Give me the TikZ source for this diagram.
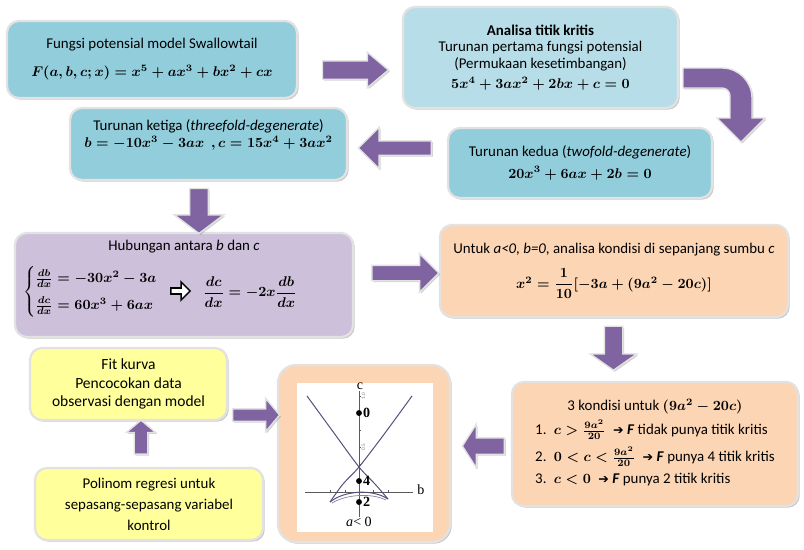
\documentclass[tikz,border=0pt]{standalone}
\usepackage{amsmath,amssymb}
\usepackage{fontspec}
\setmainfont{Carlito}[Scale=1.06]
\newfontfamily\dejavu{DejaVu Sans}
\newfontfamily\timesfont{Liberation Serif}
\usetikzlibrary{
arrows.meta,
positioning,
calc,
shapes.arrows,
shadows
}
\definecolor{TealBox}{HTML}{92CDDC}
\definecolor{TealPale}{HTML}{B7DEE8}
\definecolor{LilacBox}{HTML}{CCC0DA}
\definecolor{PeachBox}{HTML}{FCD5B4}
\definecolor{LemonBox}{HTML}{FFFF9C}
\definecolor{ArrowPurple}{HTML}{8064A2}
\definecolor{RimGray}{HTML}{E2E2E2}
\definecolor{CurveInk}{HTML}{524F7D}
\definecolor{AxisGray}{HTML}{5A5A5A}
\newcommand{\lowstrut}[1]{\rule[-#1]{0pt}{#1}}
\newcommand{\kanan}{{\dejavu\small ➔}}
\tikzset{
  flowbox/.style={rectangle, rounded corners=0.3cm, draw=RimGray, line width=1.6pt,
    align=center, inner sep=2pt,
    drop shadow={shadow xshift=1.2pt, shadow yshift=-1.2pt, opacity=0.3, fill=black!70}},
  arrowlook/.style={fill=ArrowPurple, draw=RimGray, line width=1pt,
    drop shadow={shadow xshift=1pt, shadow yshift=-1pt, opacity=0.25, fill=black!70}},
  fatarrow/.style={single arrow, arrowlook, inner xsep=0pt, single arrow head indent=0pt},
  imparrow/.style={single arrow, fill=white, draw=black, line width=1.1pt, inner xsep=0pt,
    inner ysep=1.3pt, single arrow head extend=0.13cm, single arrow head indent=0pt,
    minimum height=0.48cm, minimum width=0.45cm},
  dotmark/.style={circle, fill=black, inner sep=0pt, minimum size=4.2pt},
  ticktext/.style={rotate=90, text=gray, font=\fontsize{3.5}{4}\selectfont, inner sep=0pt}
}
\begin{document}
\boldmath
\begin{tikzpicture}[x=0.025cm,y=-0.025cm,>=Latex]
\useasboundingbox (0,0) rectangle (804,549);
% top row
\node[flowbox, fill=TealBox, minimum width=7.25cm, minimum height=1.925cm] (fungsi) at (152,59.5)
  {Fungsi potensial model Swallowtail\\[8pt] $F(a,b,c;x)=x^5+ax^3+bx^2+cx$};
\node[flowbox, fill=TealPale, minimum width=6.875cm, minimum height=2.525cm] (analisa) at (540.5,57.5)
  {\textbf{Analisa titik kritis}\\ Turunan pertama fungsi potensial\\ (Permukaan kesetimbangan)\\[2pt]
   $5x^4+3ax^2+2bx+c=0$};
\node[flowbox, fill=TealBox, minimum width=6.6cm, minimum height=1.75cm] (kedua) at (580,163)
  {Turunan kedua (\textit{twofold-degenerate})\\[3pt] $20x^3+6ax+2b=0$};
\node[flowbox, fill=TealBox, minimum width=6.925cm, minimum height=1.8cm] (ketiga) at (208.5,144)
  {Turunan ketiga (\textit{threefold-degenerate})\\ $b=-10x^3-3ax\ \ ,c=15x^4+3ax^2$\lowstrut{15pt}};
% middle row
\node[flowbox, fill=LilacBox, minimum width=8.45cm, minimum height=2.6cm] (hubungan) at (184,285) {};
\node (hubJudul) at (184,247) {Hubungan antara \textit{b} dan \textit{c}};
\node (hubSistem) at (98,292)
  {$\begin{cases}\frac{db}{dx}=-30x^2-3a\\[5pt] \frac{dc}{dx}=60x^3+6ax\end{cases}$};
\node[imparrow] (hubPanah) at (179,291) {};
\node (hubHasil) at (250,292) {$\dfrac{dc}{dx}=-2x\dfrac{db}{dx}$};
\node[flowbox, fill=PeachBox, minimum width=8.7cm, minimum height=2.3cm] (untuk) at (614,271)
  {Untuk \textit{a<0, b=0}, analisa kondisi di sepanjang sumbu \textit{c}\\[8pt]
   $x^2=\dfrac{1}{10}[-3a+(9a^2-20c)]$};
% bottom row
\node[flowbox, fill=PeachBox, minimum width=7.15cm, minimum height=3.1cm] (kondisi) at (655,444)
  {3 kondisi untuk $(9a^2-20c)$\\[3pt]
   \begin{tabular}{@{}l@{}}
   1.\enspace $c>\frac{9a^2}{20}$\enspace\kanan\ \textbf{\textit{F}} tidak punya titik kritis\\[5pt]
   2.\enspace $0<c<\frac{9a^2}{20}$\enspace\kanan\ \textbf{\textit{F}} punya 4 titik kritis\\[4pt]
   3.\enspace $c<0$\enspace\kanan\ \textbf{\textit{F}} punya 2 titik kritis
   \end{tabular}};
\node[flowbox, fill=LemonBox, minimum width=4.925cm, minimum height=1.8cm, font=\fontsize{10.4}{13}\selectfont]
  (fitkurva) at (128.5,384)
  {Fit kurva\\ Pencocokan data\\ observasi dengan model};
\node[flowbox, fill=LemonBox, minimum width=5.7cm, minimum height=1.8cm, font=\fontsize{10}{13}\selectfont]
  (polinom) at (149,504)
  {Polinom regresi untuk\\[2pt] sepasang-sepasang variabel\\[2pt] kontrol};
% swallowtail picture
\node[flowbox, fill=PeachBox, minimum width=4.3cm, minimum height=4.425cm, rounded corners=0.45cm] (grafik) at (364,453.5) {};
\node[fill=white, minimum width=3.4cm, minimum height=3.725cm, inner sep=0pt] (kanvas) at (365,457.5) {};
\draw[AxisGray, line width=0.5pt] (359,517) -- (359,391);
\draw[AxisGray, line width=0.5pt] (305,492) -- (413,492);
\foreach \t in {396,413,430,447,464} \draw[AxisGray, line width=0.3pt] (359,\t) -- (361,\t);
\foreach \t in {330,345,373,388} \draw[AxisGray, line width=0.3pt] (\t,492) -- (\t,490);
\node[ticktext] (tick10) at (363.5,396) {1.0};
\node[ticktext] (tick05) at (363.5,447) {0.5};
\draw[CurveInk, line width=0.7pt] plot[smooth] coordinates {(307,396) (334,433) (359,467) (375,484) (388,499)};
\draw[CurveInk, line width=0.7pt] plot[smooth] coordinates {(412,396) (385,433) (359,467) (343,484) (330,502)};
\draw[CurveInk, line width=0.7pt] (330,502) .. controls (345,490) and (373,489) .. (388,499);
\draw[CurveInk!70, line width=0.5pt] (332,503) .. controls (347,494) and (372,493) .. (386,500);
\node[dotmark] (titik0) at (359,413) {};
\node[dotmark] (titik4) at (359,481) {};
\node[dotmark] (titik2) at (359,502) {};
\node[right=0pt of titik0, font=\timesfont\bfseries, inner sep=0.5pt] (lbl0) {0};
\node[right=0pt of titik4, font=\timesfont\bfseries, inner sep=0.5pt] (lbl4) {4};
\node[right=0pt of titik2, font=\timesfont\bfseries, inner sep=0.5pt] (lbl2) {2};
\node[font=\timesfont, inner sep=0pt] (lblc) at (360,386) {c};
\node[font=\timesfont, inner sep=0pt] (lblb) at (421,490) {b};
\node[font=\timesfont, inner sep=0pt] (lbla) at (359,522) {\textit{a}< 0};
% purple arrows
\node[fatarrow, minimum height=1.65cm, minimum width=0.85cm, inner ysep=0.2125cm,
  single arrow head extend=0.2125cm, single arrow tip angle=80] (panahA) at (350,70) {};
\draw[arrowlook] (683,68) [rounded corners=0.75cm] -- (752,68) [sharp corners] -- (752,118)
  -- (765,118) -- (741,142) -- (717,118) -- (730,118) [rounded corners=0.2cm] -- (730,88)
  [sharp corners] -- (683,88) -- cycle;
\node[fatarrow, shape border rotate=180, minimum height=1.825cm, minimum width=1cm, inner ysep=0.1625cm,
  single arrow head extend=0.3375cm] (panahB) at (398.5,148) {};
\node[fatarrow, shape border rotate=270, minimum height=1.125cm, minimum width=1.2cm,
  inner xsep=0.2125cm, inner ysep=0pt,
  single arrow head extend=0.3875cm, single arrow tip angle=106] (panahC) at (199,207.5) {};
\node[fatarrow, minimum height=1.675cm, minimum width=0.925cm, inner ysep=0.175cm,
  single arrow head extend=0.2875cm] (panahD) at (401.5,273) {};
\node[fatarrow, shape border rotate=270, minimum height=1.1cm, minimum width=1.125cm,
  inner xsep=0.2125cm, inner ysep=0pt,
  single arrow head extend=0.35cm, single arrow tip angle=110] (panahE) at (613.5,345) {};
\node[fatarrow, shape border rotate=180, minimum height=1.05cm, minimum width=1.05cm, inner ysep=0.1875cm,
  single arrow head extend=0.3375cm, single arrow tip angle=115] (panahF) at (486,446) {};
\node[fatarrow, minimum height=1.175cm, minimum width=0.8cm, inner ysep=0.1375cm,
  single arrow head extend=0.2625cm, single arrow tip angle=100] (panahG) at (253.5,415) {};
\node[fatarrow, shape border rotate=90, minimum height=0.85cm, minimum width=0.7cm,
  inner xsep=0.15cm, inner ysep=0pt,
  single arrow head extend=0.2cm, single arrow tip angle=100] (panahH) at (141,440) {};
\end{tikzpicture}
\end{document}
